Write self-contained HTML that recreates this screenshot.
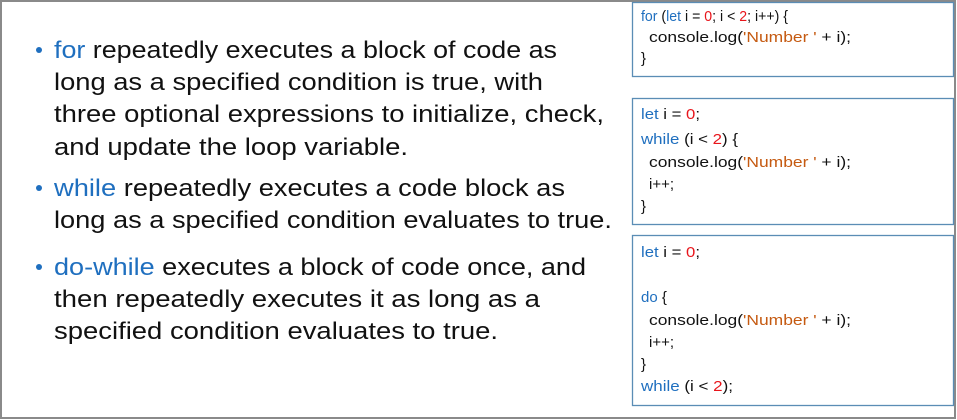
<!DOCTYPE html>
<html><head><meta charset="utf-8"><style>
html,body{margin:0;padding:0;background:#fff}
svg{display:block}
text{font-family:"Liberation Sans",sans-serif}
.b{font-size:24px;fill:#111}
.c{font-size:15px;fill:#111}
.k{fill:#1f6fbf}.r{fill:#e8151b}.o{fill:#c55a11}
</style></head><body>
<svg width="957" height="420" viewBox="0 0 957 420">
<rect x="1" y="1" width="954" height="417" fill="#fff" stroke="#8a8a8a" stroke-width="2"/>
<g fill="none" stroke="#5b8db5" stroke-width="1.3">
<rect x="632.5" y="2.5" width="321" height="74"/>
<rect x="632.5" y="98.5" width="321" height="126"/>
<rect x="632.5" y="235.5" width="321" height="170"/>
</g>
<g class="b">
<circle cx="39" cy="50" r="3" fill="#1f6fbf"/>
<text x="54" y="58" textLength="503" lengthAdjust="spacingAndGlyphs"><tspan class="k">for</tspan> repeatedly executes a block of code as</text>
<text x="54" y="90" textLength="489" lengthAdjust="spacingAndGlyphs">long as a specified condition is true, with</text>
<text x="54" y="122" textLength="550" lengthAdjust="spacingAndGlyphs">three optional expressions to initialize, check,</text>
<text x="54" y="155" textLength="354" lengthAdjust="spacingAndGlyphs">and update the loop variable.</text>
<circle cx="39" cy="188" r="3" fill="#1f6fbf"/>
<text x="54" y="196" textLength="511" lengthAdjust="spacingAndGlyphs"><tspan class="k">while</tspan> repeatedly executes a code block  as</text>
<text x="54" y="228" textLength="558" lengthAdjust="spacingAndGlyphs">long as a specified condition evaluates to true.</text>
<circle cx="39" cy="267" r="3" fill="#1f6fbf"/>
<text x="54" y="275" textLength="532" lengthAdjust="spacingAndGlyphs"><tspan class="k">do-while</tspan> executes a block of code once, and</text>
<text x="54" y="307" textLength="486" lengthAdjust="spacingAndGlyphs">then repeatedly executes it as long as a</text>
<text x="54" y="339" textLength="444" lengthAdjust="spacingAndGlyphs">specified condition evaluates to true.</text>
</g>
<g class="c">
<text x="641" y="21" textLength="147" lengthAdjust="spacingAndGlyphs"><tspan class="k">for</tspan> (<tspan class="k">let</tspan> i = <tspan class="r">0</tspan>; i &lt; <tspan class="r">2</tspan>; i++) {</text>
<text x="649" y="42" textLength="202" lengthAdjust="spacingAndGlyphs">console.log(<tspan class="o">'Number '</tspan> + i);</text>
<text x="641" y="63">}</text>

<text x="641" y="119" textLength="59" lengthAdjust="spacingAndGlyphs"><tspan class="k">let</tspan> i = <tspan class="r">0</tspan>;</text>
<text x="641" y="144" textLength="97" lengthAdjust="spacingAndGlyphs"><tspan class="k">while</tspan> (i &lt; <tspan class="r">2</tspan>) {</text>
<text x="649" y="167" textLength="202" lengthAdjust="spacingAndGlyphs">console.log(<tspan class="o">'Number '</tspan> + i);</text>
<text x="649" y="189">i++;</text>
<text x="641" y="211">}</text>

<text x="641" y="257" textLength="59" lengthAdjust="spacingAndGlyphs"><tspan class="k">let</tspan> i = <tspan class="r">0</tspan>;</text>
<text x="641" y="302"><tspan class="k">do</tspan> {</text>
<text x="649" y="325" textLength="202" lengthAdjust="spacingAndGlyphs">console.log(<tspan class="o">'Number '</tspan> + i);</text>
<text x="649" y="347">i++;</text>
<text x="641" y="369">}</text>
<text x="641" y="391" textLength="92" lengthAdjust="spacingAndGlyphs"><tspan class="k">while</tspan> (i &lt; <tspan class="r">2</tspan>);</text>
</g>
</svg>
</body></html>
